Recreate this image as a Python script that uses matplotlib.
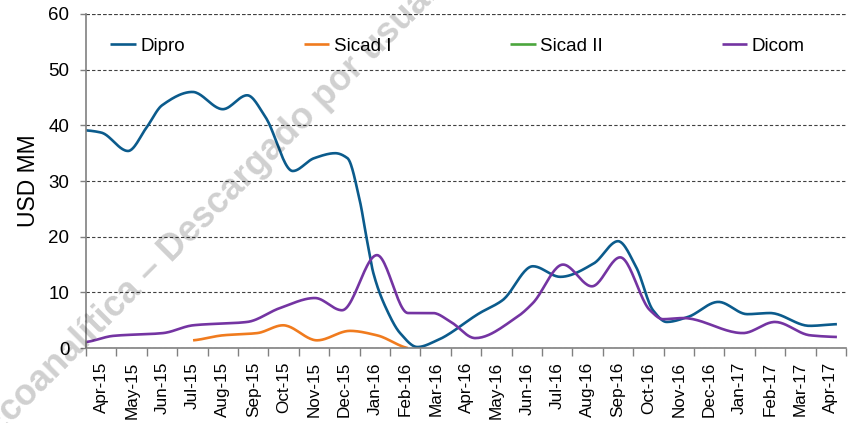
import matplotlib
matplotlib.use('Agg')
import matplotlib.pyplot as plt
import numpy as np

plt.rcParams['font.family'] = ['Liberation Sans', 'DejaVu Sans']

months = ['Apr-15', 'May-15', 'Jun-15', 'Jul-15', 'Aug-15', 'Sep-15', 'Oct-15',
          'Nov-15', 'Dec-15', 'Jan-16', 'Feb-16', 'Mar-16', 'Apr-16', 'May-16',
          'Jun-16', 'Jul-16', 'Aug-16', 'Sep-16', 'Oct-16', 'Nov-16', 'Dec-16',
          'Jan-17', 'Feb-17', 'Mar-17', 'Apr-17']

# positions in month units (0 = Apr-15), values in USD MM
dipro_x = [-0.5, 0.0, 0.88, 1.5, 2.0, 3.0, 4.0, 4.8, 5.4, 6.3, 7.0, 7.7, 8.1, 8.5,
           8.74, 8.95, 9.4, 9.83, 10.4, 11.05, 12.45, 13.2, 14.2, 15.1, 16.2, 17.0,
           17.6, 18.15, 18.6, 19.3, 20.3, 21.25, 22.0, 23.3, 24.2]
dipro_y = [39.1, 38.7, 35.4, 39.7, 43.6, 46.0, 42.9, 45.4, 41.5, 31.8, 34.1, 35.0,
           34.1, 26.6, 19.4, 13.5, 6.8, 2.7, 0.2, 1.4, 6.3, 8.6, 14.7, 12.8, 15.2,
           19.2, 14.5, 6.8, 4.7, 5.6, 8.3, 6.1, 6.3, 4.0, 4.3]

sicad1_x = [3.02, 4.0, 5.13, 5.98, 7.1, 8.18, 9.07, 10.09]
sicad1_y = [1.4, 2.3, 2.7, 4.1, 1.4, 3.1, 2.3, 0.0]

sicad2_x = []
sicad2_y = []

dicom_x = [-0.5, 0.39, 2.03, 3.02, 4.8, 5.88, 7.03, 7.92, 9.07, 10.09, 10.91,
           11.5, 12.3, 13.68, 14.2, 15.19, 16.14, 17.07, 18.05, 18.48, 19.14,
           21.11, 22.16, 23.32, 24.2]
dicom_y = [1.1, 2.2, 2.7, 4.1, 4.7, 7.2, 9.0, 6.8, 16.7, 6.3, 6.3, 4.7, 1.8, 5.6,
           8.1, 15.0, 11.1, 16.3, 6.8, 5.2, 5.4, 2.7, 4.7, 2.3, 2.0]


def smooth(xs, ys, n=25):
    # monotone cubic (pchip) through the read points, like Excel's smoothed line
    xs = np.asarray(xs, float)
    ys = np.asarray(ys, float)
    if len(xs) < 3:
        return xs, ys
    h = np.diff(xs)
    d = np.diff(ys) / h
    m = np.zeros_like(ys)
    for k in range(1, len(xs) - 1):
        if d[k - 1] * d[k] > 0:
            w1 = 2 * h[k] + h[k - 1]
            w2 = h[k] + 2 * h[k - 1]
            m[k] = (w1 + w2) / (w1 / d[k - 1] + w2 / d[k])
    m[0] = 0.5 * d[0]
    m[-1] = 0.5 * d[-1]
    outx, outy = [], []
    for k in range(len(xs) - 1):
        t = np.linspace(0, 1, n, endpoint=False)
        h00 = 2 * t**3 - 3 * t**2 + 1
        h10 = t**3 - 2 * t**2 + t
        h01 = -2 * t**3 + 3 * t**2
        h11 = t**3 - t**2
        outx.append(xs[k] + t * h[k])
        outy.append(h00 * ys[k] + h10 * h[k] * m[k] + h01 * ys[k + 1] + h11 * h[k] * m[k + 1])
    outx.append([xs[-1]])
    outy.append([ys[-1]])
    return np.concatenate(outx), np.concatenate(outy)


fig = plt.figure(figsize=(8.52, 4.23), dpi=100)
ax = fig.add_axes([0.101, 0.177, 0.892, 0.79])

series = [('Dipro', dipro_x, dipro_y, '#0B5B8C'),
          ('Sicad I', sicad1_x, sicad1_y, '#F07B1E'),
          ('Sicad II', sicad2_x, sicad2_y, '#4BA63D'),
          ('Dicom', dicom_x, dicom_y, '#7434A2')]
for name, xs, ys, col in series:
    sx, sy = smooth(xs, ys)
    ax.plot(sx, sy, color=col, lw=1.9, label=name, solid_capstyle='butt')

ax.set_xlim(-0.5, len(months) - 0.5)
ax.set_ylim(0, 60)
ax.set_yticks(range(0, 61, 10))
ax.set_xticks(range(len(months)))
ax.set_xticklabels(months, rotation=90, fontsize=12.3)
ax.set_xticks(np.arange(-0.5, len(months)), minor=True)
ax.tick_params(axis='x', which='major', length=0, pad=10)
ax.tick_params(axis='x', which='minor', length=6, color='#808080', width=1)
ax.tick_params(axis='y', length=4, color='#808080', width=1, labelsize=13.5, pad=8)
ax.set_ylabel('USD MM', fontsize=16.5, labelpad=6)

ax.grid(axis='y', color='#404040', ls=(0, (3, 2)), lw=0.8)
ax.set_axisbelow(True)
for s in ['top', 'right']:
    ax.spines[s].set_visible(False)
for s in ['left', 'bottom']:
    ax.spines[s].set_color('#808080')
    ax.spines[s].set_linewidth(1.2)
ax.axhline(60, color='#404040', ls=(0, (3, 2)), lw=0.8, zorder=0.5)

ax.legend(ncol=4, mode='expand', loc='center left',
          bbox_to_anchor=(0.032, 0.904, 0.914, 0.0), frameon=False,
          fontsize=13.5, handlelength=1.35, handletextpad=0.25,
          borderpad=0, borderaxespad=0)

fig.text(-0.007, -0.04, 'Ecoanalítica – Descargado por usuario', rotation=45,
         rotation_mode='anchor', ha='left', va='baseline', fontsize=26,
         fontweight='bold', color='black', alpha=0.19, zorder=10)

fig.savefig('out.png', dpi=100)
